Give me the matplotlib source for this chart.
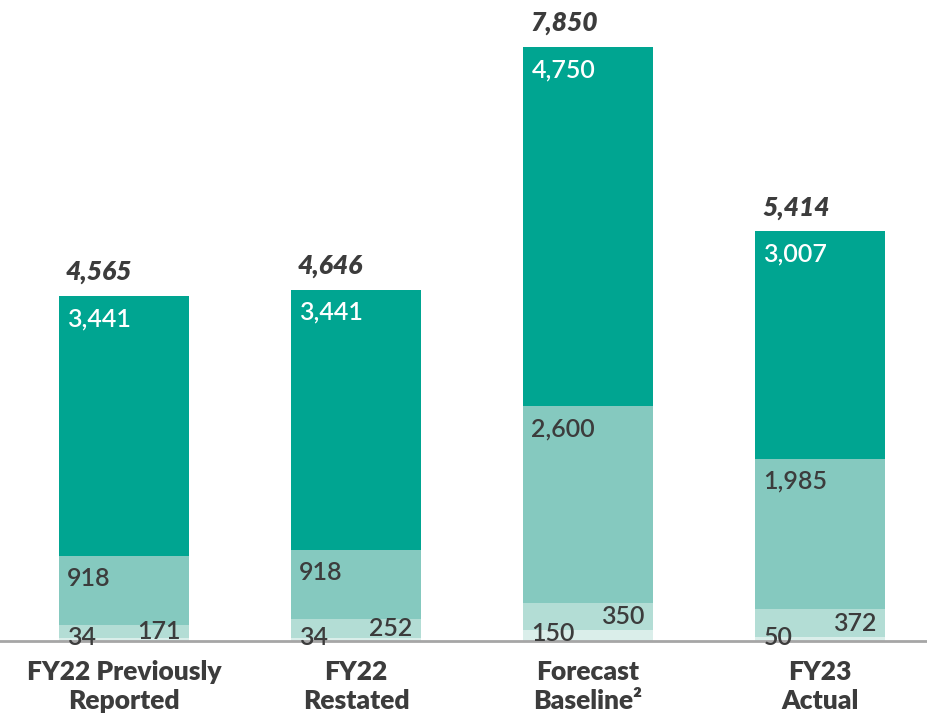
import numpy as np
import matplotlib
matplotlib.use("Agg")
import matplotlib.pyplot as plt

plt.rcParams['font.family'] = ['Lato', 'DejaVu Sans']

categories = ['FY22 Previously\nReported', 'FY22\nRestated', 'Forecast\nBaseline\u00b2', 'FY23\nActual']
seg_a = [34, 34, 150, 50]          # bottom, lightest
seg_b = [171, 252, 350, 372]
seg_c = [918, 918, 2600, 1985]
seg_d = [3441, 3441, 4750, 3007]   # top, dark teal
totals = [4565, 4646, 7850, 5414]

colors = ['#DAEEEA', '#B3DDD5', '#85C9BF', '#00A591']
txt = '#3C3C3C'

fig = plt.figure(figsize=(9.28, 7.14), dpi=100)
ax = fig.add_axes([0, 73 / 714, 1, 641 / 714])
x = np.arange(len(categories))
w = 130 / 232

bottom = np.zeros(len(x))
segs = [seg_a, seg_b, seg_c, seg_d]
for s, c in zip(segs, colors):
    ax.bar(x, s, w, bottom=bottom, color=c, linewidth=0)
    bottom += np.array(s)

ax.set_xlim(-124 / 232, (928 - 124) / 232)
ax.set_ylim(0, 641 / 0.07567)
ax.axis('off')
ax.axhline(0, color='#A6A6A6', lw=2, clip_on=False, zorder=5)

fs = 18
nw = 'semibold'
for i in range(len(x)):
    left = x[i] - w / 2
    right = x[i] + w / 2
    # bottom segment: left, centered
    ax.annotate(f'{seg_a[i]:,}', (left, seg_a[i] / 2), xytext=(6, 1.5), textcoords='offset points',
                ha='left', va='center', fontsize=fs, color=txt, fontweight=nw, zorder=6)
    b0 = seg_a[i]
    ax.annotate(f'{seg_b[i]:,}', (right, b0 + seg_b[i] / 2), xytext=(-6, 0), textcoords='offset points',
                ha='right', va='center', fontsize=fs, color=txt, fontweight=nw, zorder=6)
    b0 += seg_b[i]
    top_c = b0 + seg_c[i]
    ax.annotate(f'{seg_c[i]:,}', (left, top_c), xytext=(6, -16), textcoords='offset points',
                ha='left', va='center', fontsize=fs, color=txt, fontweight=nw)
    top_d = top_c + seg_d[i]
    ax.annotate(f'{seg_d[i]:,}', (left, top_d), xytext=(6, -16.5), textcoords='offset points',
                ha='left', va='center', fontsize=fs, color='white', fontweight=nw)
    ax.annotate(f'{totals[i]:,}', (left, top_d), xytext=(5, 17), textcoords='offset points',
                ha='left', va='center', fontsize=19, color=txt, fontweight='heavy', fontstyle='italic')
    ax.annotate(categories[i], (x[i], 0), xytext=(0, -14), textcoords='offset points',
                ha='center', va='top', fontsize=19, color=txt, fontweight='heavy', linespacing=1.25)

fig.savefig('out.png', dpi=100)
